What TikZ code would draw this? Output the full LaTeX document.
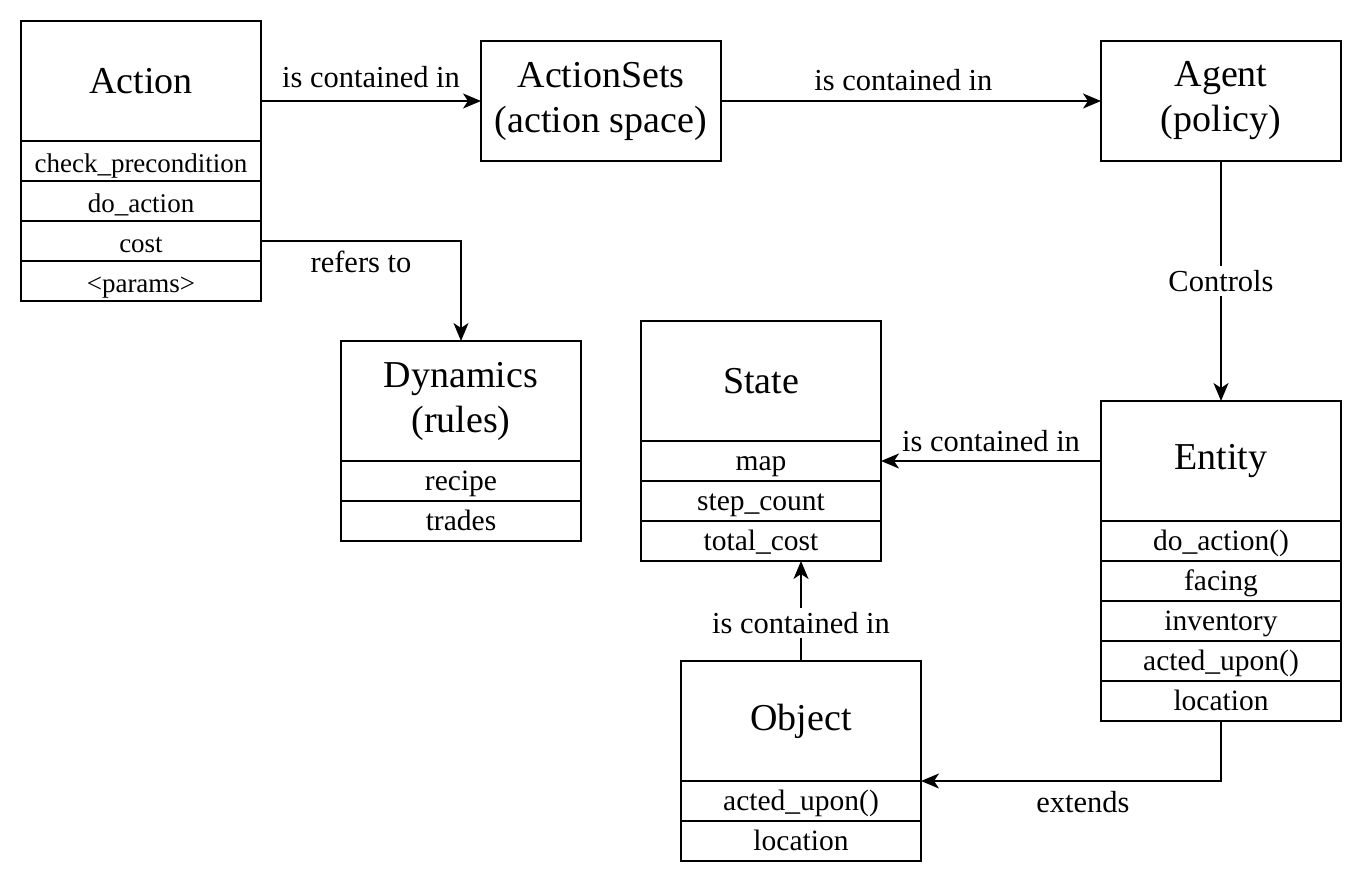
\documentclass[tikz,border=0pt]{standalone}
\usepackage{fontspec}
\setmainfont{Liberation Serif}
\usetikzlibrary{arrows.meta,positioning}

\begin{document}
\begin{tikzpicture}[x=1pt,y=-1pt,
  every node/.style={outer sep=0pt},
  head/.style={draw, line width=2pt, minimum width=240pt, minimum height=120pt, inner sep=0pt, align=center, font=\fontsize{38}{45}\selectfont},
  field/.style={draw, line width=2pt, minimum width=240pt, minimum height=40pt, inner sep=0pt, text height=23pt, text depth=5pt, font=\fontsize{29.5}{34}\selectfont},
  smallfield/.style={field, text height=26pt, text depth=2pt, font=\fontsize{27}{32}\selectfont},
  lbl/.style={inner sep=0pt, font=\fontsize{30.5}{36}\selectfont},
  tag/.style={lbl, fill=white, inner sep=4pt},
  conn/.style={line width=2pt, -{Stealth[length=18pt,width=15pt,inset=5pt]}}]
  \useasboundingbox (0,0) rectangle (1362,882);

  % classes
  \node[head] (action) at (141,81) {Action};
  \foreach \n/\t [remember=\n as \p (initially action)] in {actcheck/check\_precondition, actdo/do\_action, actcost/cost, actparams/<params>}
    \node[smallfield, below=0pt of \p] (\n) {\t};
  \node[head] (actsets) at (601,101) {ActionSets\\(action space)};
  \node[head] (agent) at (1221,101) {Agent\\(policy)};
  \node[head] (dynamics) at (461,401) {Dynamics\\(rules)};
  \foreach \n/\t [remember=\n as \p (initially dynamics)] in {dynrecipe/recipe, dyntrades/trades}
    \node[field, below=0pt of \p] (\n) {\t};
  \node[head] (state) at (761,381) {State};
  \foreach \n/\t [remember=\n as \p (initially state)] in {statemap/map, statestep/step\_count, statecost/total\_cost}
    \node[field, below=0pt of \p] (\n) {\t};
  \node[head] (entity) at (1221,461) {Entity};
  \foreach \n/\t [remember=\n as \p (initially entity)] in {entdo/do\_action(), entfacing/facing, entinv/inventory, entacted/acted\_upon(), entloc/location}
    \node[field, below=0pt of \p] (\n) {\t};
  \node[head] (object) at (801,721) {Object};
  \foreach \n/\t [remember=\n as \p (initially object)] in {objacted/acted\_upon(), objloc/location}
    \node[field, below=0pt of \p] (\n) {\t};

  % relations
  \draw[conn] (actsets.west -| action.east) -- (actsets.west) node[lbl, midway, above=13pt] {is contained in};
  \draw[conn] (actsets.east) -- (agent.west) node[lbl, pos=0.48, above=10pt] {is contained in};
  \draw[conn] (actcost.east) -| (dynamics.north) node[lbl, pos=0.25, below=10pt] {refers to};
  \draw[conn] (agent.south) -- (entity.north) node[tag, midway] {Controls};
  \draw[conn] (entity.west) -- (statemap.east) node[lbl, midway, above=9pt] {is contained in};
  \draw[conn] (object.north) -- (object.north |- statecost.south) node[tag, pos=0.38] {is contained in};
  \draw[conn] (entloc.south) |- (object.south east) node[lbl, pos=0.73, below=10pt] {extends};
\end{tikzpicture}
\end{document}
